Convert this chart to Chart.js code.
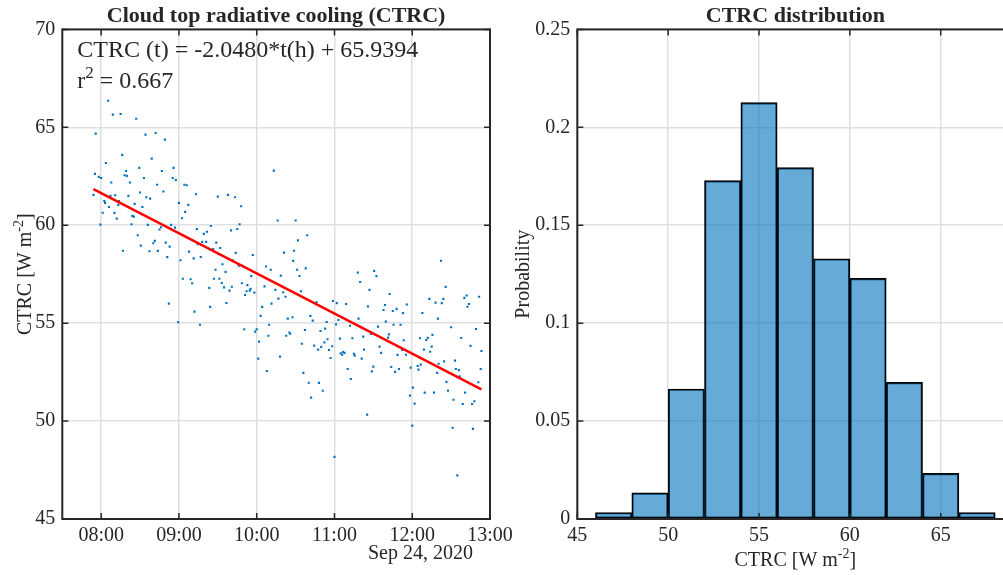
<!DOCTYPE html>
<html><head><meta charset="utf-8">
<script src="https://cdn.jsdelivr.net/npm/chart.js@4.4.1/dist/chart.umd.min.js"></script>
<style>
html,body{margin:0;padding:0;background:#fff;overflow:hidden;width:1003px;height:575px;}
#left{position:absolute;left:0;top:0;}
#right{position:absolute;left:500px;top:0;}
</style></head><body>
<canvas id="left" width="540" height="575"></canvas>
<canvas id="right" width="540" height="575"></canvas>
<script>
// ---------- DATA ----------
const leftTitle = 'Cloud top radiative cooling (CTRC)';
const rightTitle = 'CTRC distribution';
const dateLabel = 'Sep 24, 2020';

// observation time (decimal hours, local) and CTRC value (W m-2)
const obsHour = [
 8.09,8.15,8.25,8.45,7.93,8.57,8.70,8.82,8.27,8.06,8.65,8.49,8.32,8.78,8.93,7.92,7.97,8.00,8.30,8.33,
 8.55,8.92,8.96,8.13,8.37,8.72,9.07,9.10,8.50,8.80,9.22,7.90,8.12,8.18,8.35,8.58,8.63,8.04,8.05,8.23,
 8.22,8.43,8.10,8.53,9.00,9.12,8.02,8.17,8.40,8.42,9.08,8.20,9.04,7.99,8.39,8.60,8.77,8.75,8.90,8.95,
 9.23,8.47,8.69,8.67,8.83,8.51,8.88,8.28,8.62,8.73,9.13,8.85,9.02,9.19,9.24,
 9.50,9.63,9.72,9.80,10.22,10.27,10.50,9.41,9.78,9.75,9.67,9.36,9.32,10.65,10.53,9.30,9.35,9.48,9.53,9.44,
 9.28,9.73,9.95,10.35,10.48,10.47,9.47,9.56,9.69,9.77,9.60,10.12,10.18,10.52,10.63,9.05,9.15,9.17,9.45,9.52,
 9.93,10.31,10.55,9.55,9.81,9.88,9.39,9.58,9.68,9.65,9.91,9.87,9.92,9.85,9.97,10.10,10.24,10.34,10.37,
 10.57,10.28,10.19,9.61,9.40,10.07,9.20,10.05,10.40,10.46,10.69,8.99,9.27,10.16,9.84,10.00,9.98,10.03,10.15,
 10.38,10.42,10.43,10.58,10.62,10.02,10.30,10.13,8.87,
 10.77,10.72,10.90,10.98,11.03,11.15,11.30,11.33,11.51,11.54,11.45,11.71,11.43,11.65,11.63,11.31,11.66,11.05,11.20,11.02,
 11.56,10.82,10.88,11.47,11.70,11.07,11.23,11.37,10.91,10.74,10.79,10.83,10.87,10.93,10.97,11.58,11.08,11.11,11.13,11.10,
 11.25,11.26,11.38,11.60,11.35,10.95,11.50,11.48,11.17,10.60,11.21,10.67,10.80,10.85,10.70,11.42,
 12.00,12.52,12.78,11.00,12.58,
 12.37,12.43,12.22,12.30,12.40,12.38,12.67,12.70,12.73,12.71,12.86,11.75,11.80,11.93,11.88,12.13,11.76,11.85,12.33,12.50,
 12.82,11.69,12.10,12.20,12.18,12.26,12.63,11.89,12.25,12.23,12.15,12.75,12.89,11.81,11.92,11.87,12.41,12.55,12.34,
 11.73,11.78,11.83,11.98,12.07,12.08,12.11,12.56,12.60,12.61,12.32,12.88,12.44,12.46,12.85,12.01,12.16,12.28,12.68,11.97,
 12.53,12.80,12.03,12.65,12.77
];
const ctrcValue = [
 66.36,65.65,65.68,65.44,64.68,64.63,64.71,64.37,63.59,63.18,63.40,62.93,62.77,62.77,62.93,62.62,62.47,62.41,62.55,62.52,
 62.41,62.41,62.31,62.18,62.18,62.07,62.07,62.04,61.67,61.72,61.58,61.55,61.50,61.53,61.50,61.43,61.36,61.24,61.14,61.24,
 61.04,61.09,60.93,60.93,61.14,61.04,60.64,60.63,60.48,60.44,60.68,60.34,60.36,60.03,60.05,60.02,59.90,59.78,60.02,59.88,
 59.80,59.49,59.20,59.08,59.11,58.96,58.91,58.70,58.67,58.69,58.65,58.37,58.21,58.31,59.03,
 61.46,61.55,61.43,60.97,62.79,60.24,60.24,59.96,60.05,59.81,59.74,59.67,59.56,59.49,59.23,59.15,59.15,59.11,58.84,58.79,
 58.38,58.59,58.48,58.60,58.70,58.18,57.73,58.01,58.21,57.94,57.62,57.89,57.73,57.73,57.80,57.27,57.24,57.04,57.27,57.27,
 57.40,57.43,57.41,57.05,57.04,56.94,56.80,56.83,56.86,56.66,56.66,56.63,56.75,56.44,56.56,56.88,56.70,56.58,56.35,
 56.63,56.25,56.00,56.03,55.83,55.83,55.59,55.37,55.23,55.30,55.37,55.05,54.92,54.92,54.69,54.69,54.57,54.06,54.36,
 54.36,54.52,54.46,53.95,54.65,53.19,53.29,52.56,56.00,
 56.07,55.13,55.06,56.13,56.02,55.98,57.58,57.10,57.67,57.40,56.70,56.49,55.86,55.93,55.67,55.23,55.08,55.16,54.87,54.94,
 54.82,54.60,54.72,54.45,54.43,54.21,54.23,54.31,54.18,53.85,53.65,53.79,54.02,53.63,53.82,53.80,53.46,53.53,53.48,53.39,
 53.43,53.34,53.65,53.48,53.19,53.22,52.78,52.54,52.66,52.46,52.15,51.96,51.95,51.55,51.20,50.33,
 49.77,49.66,49.60,48.17,47.23,
 58.19,56.85,56.24,56.05,56.24,56.02,56.29,56.41,55.98,55.84,56.35,55.62,55.73,55.95,55.51,55.52,54.92,54.92,55.23,54.79,
 54.70,54.26,54.23,54.25,54.14,54.40,54.24,54.13,53.80,53.54,53.65,53.84,53.58,53.38,53.39,53.63,53.05,53.09,52.93,
 52.76,52.51,52.66,52.73,52.81,52.63,52.88,52.66,52.60,52.29,52.46,52.66,52.00,51.55,51.98,51.71,51.45,51.45,51.45,51.30,
 51.09,51.01,50.89,50.87,50.87
];

// linear fit: CTRC(t) = slope * t(h) + intercept, t in hours since fitOriginHour
const fitSlope = -2.0480;
const fitIntercept = 65.9394;
const fitOriginHour = 5.9;
const fitR2 = '0.667';

// x ticks (hours) and labels for the time axis
const timeTicks = [8, 9, 10, 11, 12, 13];
const timeTickLabels = ['08:00', '09:00', '10:00', '11:00', '12:00', '13:00'];
const ctrcTicks = [45, 50, 55, 60, 65, 70];

// histogram
const binEdges = [46, 48, 50, 52, 54, 56, 58, 60, 62, 64, 66, 68];
const binProbability = [0.0033, 0.0133, 0.0664, 0.1728, 0.2126, 0.1794, 0.1329, 0.1229, 0.0698, 0.0233, 0.0033];
const histXTicks = [45, 50, 55, 60, 65];
const probTicks = [0, 0.05, 0.1, 0.15, 0.2, 0.25];
const probTickLabels = ['0', '0.05', '0.1', '0.15', '0.2', '0.25'];

// ---------- STYLE ----------
const FONT = "'Liberation Serif', 'Times New Roman', serif";
const INK = '#262626';
const GRID = '#dfdfdf';
Chart.defaults.font.family = FONT;
Chart.defaults.color = INK;

function drawRich(ctx, parts, x, y, size, align) {
  const base = size + 'px ' + FONT, sup = Math.round(size * 0.7) + 'px ' + FONT;
  let total = 0;
  parts.forEach(p => { ctx.font = p[1] ? sup : base; total += ctx.measureText(p[0]).width; });
  let cx = align === 'center' ? x - total / 2 : align === 'right' ? x - total : x;
  ctx.textAlign = 'left'; ctx.textBaseline = 'alphabetic'; ctx.fillStyle = INK;
  parts.forEach(p => {
    ctx.font = p[1] ? sup : base;
    ctx.fillText(p[0], cx, p[1] ? y - size * 0.42 : y);
    cx += ctx.measureText(p[0]).width;
  });
}

const framePlugin = {
  id: 'frame',
  afterDatasetsDraw(chart) {
    const {ctx, chartArea: a, scales} = chart;
    const L = 6;
    ctx.save();
    ctx.strokeStyle = INK;
    ctx.lineWidth = 1.5;
    ctx.beginPath();
    scales.x.ticks.forEach(t => {
      const p = scales.x.getPixelForValue(t.value);
      ctx.moveTo(p, a.bottom); ctx.lineTo(p, a.bottom - L);
      ctx.moveTo(p, a.top); ctx.lineTo(p, a.top + L);
    });
    scales.y.ticks.forEach(t => {
      const p = scales.y.getPixelForValue(t.value);
      ctx.moveTo(a.left, p); ctx.lineTo(a.left + L, p);
      ctx.moveTo(a.right, p); ctx.lineTo(a.right - L, p);
    });
    ctx.stroke();
    ctx.lineWidth = 2;
    ctx.strokeRect(a.left, a.top, a.right - a.left, a.bottom - a.top);
    ctx.restore();
  }
};

function setTicks(values) { return s => { s.ticks = values.map(v => ({value: v})); }; }

// ---------- LEFT: scatter + fit ----------
const scatterPts = obsHour.map((h, i) => ({x: h, y: ctrcValue[i]}));
const hMin = Math.min(...obsHour), hMax = Math.max(...obsHour);
const fitAt = h => fitSlope * (h - fitOriginHour) + fitIntercept;
const fitPts = [{x: hMin, y: fitAt(hMin)}, {x: hMax, y: fitAt(hMax)}];

const leftLabels = {
  id: 'leftLabels',
  afterDraw(chart) {
    const {ctx, chartArea: a} = chart;
    ctx.save();
    drawRich(ctx, [['CTRC (t) = ' + fitSlope.toFixed(4) + '*t(h) + ' + fitIntercept.toFixed(4), false]], a.left + 15, a.top + 27.5, 24, 'left');
    drawRich(ctx, [['r', false], ['2', true], [' = ' + fitR2, false]], a.left + 15, a.top + 58.5, 24, 'left');
    drawRich(ctx, [[dateLabel, false]], 473, 559, 20, 'right');
    ctx.translate(31, (a.top + a.bottom) / 2);
    ctx.rotate(-Math.PI / 2);
    drawRich(ctx, [['CTRC [W m', false], ['-2', true], [']', false]], 0, 0, 20, 'center');
    ctx.restore();
  }
};

new Chart(document.getElementById('left'), {
  type: 'scatter',
  data: {
    datasets: [
      {data: scatterPts, pointStyle: 'rect', pointRadius: 1.5, backgroundColor: '#0072BD', borderWidth: 0, order: 2},
      {data: fitPts, showLine: true, borderColor: '#FF0000', borderWidth: 2.5, pointRadius: 0, order: 1}
    ]
  },
  options: {
    responsive: false, animation: false, devicePixelRatio: 1,
    layout: {padding: {left: 0, right: 50, top: 0, bottom: 0}},
    plugins: {
      legend: {display: false}, tooltip: {enabled: false},
      title: {display: true, text: leftTitle, fullSize: false, color: INK,
              font: {size: 22, weight: 'bold', family: FONT, lineHeight: 1.2}, padding: {top: 3, bottom: 0}}
    },
    scales: {
      x: {type: 'linear', min: 7.5, max: 13,
          afterBuildTicks: setTicks(timeTicks),
          afterFit: s => { s.height = 56; },
          grid: {color: GRID, lineWidth: 1.5, drawTicks: false}, border: {display: false},
          ticks: {font: {size: 20}, padding: 5, maxRotation: 0, autoSkip: false,
                  callback: v => timeTickLabels[timeTicks.indexOf(v)]}},
      y: {type: 'linear', min: 45, max: 70,
          afterBuildTicks: setTicks(ctrcTicks),
          afterFit: s => { s.width = 62.3; },
          grid: {color: GRID, lineWidth: 1.5, drawTicks: false}, border: {display: false},
          ticks: {font: {size: 20}, padding: 7, autoSkip: false}}
    }
  },
  plugins: [framePlugin, leftLabels]
});

// ---------- RIGHT: histogram ----------
const histPts = binProbability.map((p, i) => ({x: (binEdges[i] + binEdges[i + 1]) / 2, y: p}));

const rightLabels = {
  id: 'rightLabels',
  afterDraw(chart) {
    const {ctx, chartArea: a} = chart;
    ctx.save();
    drawRich(ctx, [['CTRC [W m', false], ['-2', true], [']', false]], (a.left + a.right) / 2, 566, 20, 'center');
    ctx.translate(29, (a.top + a.bottom) / 2);
    ctx.rotate(-Math.PI / 2);
    drawRich(ctx, [['Probability', false]], 0, 0, 20, 'center');
    ctx.restore();
  }
};

new Chart(document.getElementById('right'), {
  type: 'bar',
  data: {
    datasets: [{data: histPts, backgroundColor: 'rgba(0,114,189,0.6)', borderColor: '#000000',
                borderWidth: 1.5, borderSkipped: false, barPercentage: 1, categoryPercentage: 1}]
  },
  options: {
    responsive: false, animation: false, devicePixelRatio: 1,
    layout: {padding: {left: 0, right: 26.6, top: 0, bottom: 0}},
    plugins: {
      legend: {display: false}, tooltip: {enabled: false},
      title: {display: true, text: rightTitle, fullSize: false, color: INK,
              font: {size: 22, weight: 'bold', family: FONT, lineHeight: 1.2}, padding: {top: 3, bottom: 0}}
    },
    scales: {
      x: {type: 'linear', min: 45, max: 69, offset: false,
          afterBuildTicks: setTicks(histXTicks),
          afterFit: s => { s.height = 56; },
          grid: {color: GRID, lineWidth: 1.5, drawTicks: false, offset: false}, border: {display: false},
          ticks: {font: {size: 20}, padding: 5, maxRotation: 0, autoSkip: false}},
      y: {type: 'linear', min: 0, max: 0.25,
          afterBuildTicks: setTicks(probTicks),
          afterFit: s => { s.width = 77.3; },
          grid: {color: GRID, lineWidth: 1.5, drawTicks: false}, border: {display: false},
          ticks: {font: {size: 20}, padding: 7, autoSkip: false,
                  callback: v => probTickLabels[probTicks.indexOf(v)]}}
    }
  },
  plugins: [framePlugin, rightLabels]
});
</script>
</body></html>
